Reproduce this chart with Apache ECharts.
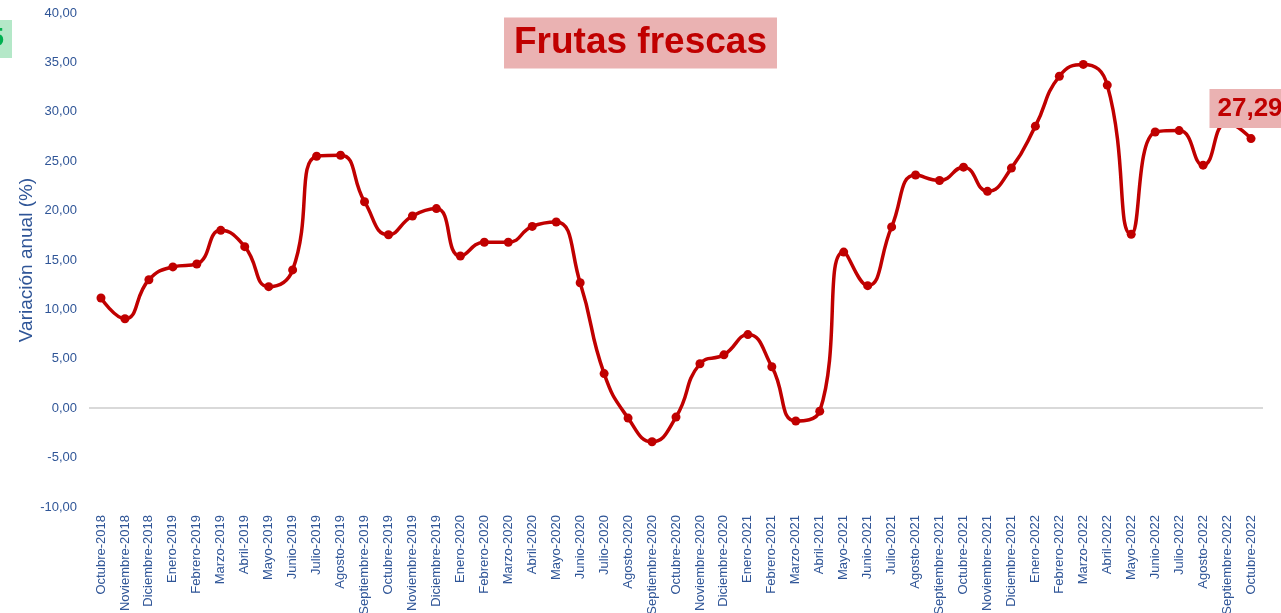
<!DOCTYPE html>
<html>
<head>
<meta charset="utf-8">
<script src="https://cdn.jsdelivr.net/npm/echarts@6/dist/echarts.min.js"></script>
<style>
html,body{margin:0;padding:0;background:#fff;}
#chart{width:1281px;height:613px;}
</style>
</head>
<body>
<div id="chart"></div>
<script>
const categories = [
  'Octubre-2018','Noviembre-2018','Diciembre-2018',
  'Enero-2019','Febrero-2019','Marzo-2019','Abril-2019','Mayo-2019','Junio-2019','Julio-2019','Agosto-2019','Septiembre-2019','Octubre-2019','Noviembre-2019','Diciembre-2019',
  'Enero-2020','Febrero-2020','Marzo-2020','Abril-2020','Mayo-2020','Junio-2020','Julio-2020','Agosto-2020','Septiembre-2020','Octubre-2020','Noviembre-2020','Diciembre-2020',
  'Enero-2021','Febrero-2021','Marzo-2021','Abril-2021','Mayo-2021','Junio-2021','Julio-2021','Agosto-2021','Septiembre-2021','Octubre-2021','Noviembre-2021','Diciembre-2021',
  'Enero-2022','Febrero-2022','Marzo-2022','Abril-2022','Mayo-2022','Junio-2022','Julio-2022','Agosto-2022','Septiembre-2022','Octubre-2022'
];
const values = [
  11.15, 9.05, 13.0,
  14.3, 14.6, 18.0, 16.35, 12.3, 14.0, 25.5, 25.6, 20.9, 17.55, 19.45, 20.2,
  15.4, 16.8, 16.8, 18.4, 18.85, 12.7, 3.5, -1.0, -3.4, -0.9, 4.5, 5.4,
  7.45, 4.2, -1.3, -0.3, 15.8, 12.4, 18.35, 23.6, 23.05, 24.4, 21.95, 24.3,
  28.55, 33.6, 34.8, 32.7, 17.6, 27.95, 28.1, 24.6, 28.9, 27.29
];
const titleText = 'Frutas frescas';
const yAxisName = 'Variación anual (%)';
const yMin = -10, yMax = 40, yStep = 5;
const sideNote = '5';

const blue = '#2F5597';
const red = '#C00000';
const fmt = v => v.toFixed(2).replace('.', ',');
const lastIdx = values.length - 1;

const seriesData = values.map((v, i) => i === lastIdx ? {
  value: v,
  label: {
    show: true, position: 'top', distance: 6, offset: [-1, 0],
    formatter: p => fmt(p.value),
    color: red, fontWeight: 'bold', fontSize: 26, fontFamily: 'Liberation Sans, Arial',
    backgroundColor: '#EAB2B2', padding: [7, 8, 6, 8]
  }
} : v);

const chart = echarts.init(document.getElementById('chart'), null, {renderer: 'canvas'});
chart.setOption({
  animation: false,
  backgroundColor: '#fff',
  textStyle: {fontFamily: 'Liberation Sans, Arial'},
  title: {
    text: titleText, left: 'center', top: 18,
    backgroundColor: '#EAB2B2', padding: [7, 10, 7, 10],
    textStyle: {color: red, fontSize: 37, fontWeight: 'bold', fontFamily: 'Liberation Sans, Arial', lineHeight: 36}
  },
  grid: {left: 89, right: 18, top: 13, bottom: 106, containLabel: false, outerBoundsMode: 'none'},
  xAxis: {
    type: 'category', data: categories, boundaryGap: true,
    axisLine: {show: false}, axisTick: {show: false},
    axisLabel: {rotate: 90, interval: 0, color: blue, fontSize: 13, margin: 8, fontFamily: 'Liberation Sans, Arial'},
    splitLine: {show: false}
  },
  yAxis: {
    type: 'value', min: yMin, max: yMax, interval: yStep,
    name: yAxisName, nameLocation: 'middle', nameGap: 53, nameMoveOverlap: false,
    nameTextStyle: {color: blue, fontSize: 19, fontFamily: 'Liberation Sans, Arial'},
    axisLine: {show: false}, axisTick: {show: false},
    axisLabel: {color: blue, fontSize: 13, margin: 12, formatter: fmt, fontFamily: 'Liberation Sans, Arial'},
    splitLine: {show: false}
  },
  series: [{
    type: 'line', data: seriesData, smooth: 0.5,
    symbol: 'circle', symbolSize: 9,
    lineStyle: {color: red, width: 3.5},
    itemStyle: {color: red},
    z: 3,
    markLine: {
      silent: true, symbol: 'none', z: 1,
      label: {show: false},
      lineStyle: {color: '#D9D9D9', width: 2, type: 'solid'},
      data: [{yAxis: 0}]
    }
  }],
  graphic: [
    {type: 'rect', left: -20, top: 20, shape: {width: 32, height: 38}, style: {fill: '#B4E8C8'}, z: 10},
    {type: 'text', x: 4, y: 39, style: {text: sideNote, fill: '#00B050', font: 'bold 26px Liberation Sans, Arial', align: 'right', verticalAlign: 'middle'}, z: 11}
  ]
});
</script>
</body>
</html>
